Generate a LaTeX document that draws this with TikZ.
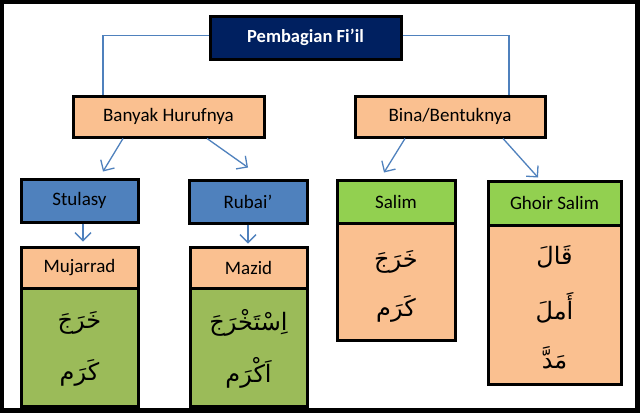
\documentclass[tikz,border=0pt]{standalone}
\usepackage{fontspec}
\setmainfont{Carlito}
\newfontfamily\arabicfont[Script=Arabic]{DejaVu Sans}
\TeXXeTstate=1
\usetikzlibrary{arrows.meta}
\definecolor{navy}{HTML}{002060}
\definecolor{peach}{HTML}{FAC090}
\definecolor{hblue}{HTML}{4F81BD}
\definecolor{lgreen}{HTML}{92D050}
\definecolor{ogreen}{HTML}{9BBB59}
\definecolor{linkblue}{HTML}{4F81BD}
\begin{document}
\begin{tikzpicture}[x=1pt,y=-1pt,
  box/.style={draw=black,line width=3pt,inner sep=0pt,font=\fontsize{19}{22}\selectfont},
  conn/.style={draw=linkblue,line width=1.3pt},
  arr/.style={conn,-{Straight Barb[length=8pt,width=16pt]}},
  ar/.style={font=\arabicfont\fontsize{24}{28}\selectfont}]
\fill[black] (0,0) rectangle (640,413);
\fill[white] (4,4) rectangle (635,408);
\useasboundingbox (0,0) rectangle (640,413);
% top
\node[box,fill=navy,text=white,font=\bfseries\fontsize{18.5}{22}\selectfont,minimum width=191pt,minimum height=43pt] (top) at (305.5,37.5) {Pembagian Fi’il};
\node[box,fill=peach,minimum width=191pt,minimum height=41pt] (banyak) at (168.5,116.5) {Banyak Hurufnya};
\node[box,fill=peach,minimum width=190pt,minimum height=41pt] (bina) at (450,116.5) {Bina/Bentuknya};
% second level
\node[box,fill=hblue,minimum width=117pt,minimum height=43pt] (stulasy) at (79.5,200.5) {Stulasy};
\node[box,fill=hblue,minimum width=118pt,minimum height=43pt] (rubai) at (248,201.5) {Rubai’};
% Mujarrad
\node[box,fill=ogreen,minimum width=117pt,minimum height=118pt] (mujB) at (79.5,347) {};
\node[box,fill=peach,minimum width=117pt,minimum height=41pt] (mujH) at (79.5,267.5) {Mujarrad};
% Mazid
\node[box,fill=ogreen,minimum width=117pt,minimum height=118pt] (mazB) at (248.5,347) {};
\node[box,fill=peach,minimum width=117pt,minimum height=41pt] (mazH) at (248.5,267.5) {Mazid};
% Salim
\node[box,fill=peach,minimum width=118pt,minimum height=117pt] (salB) at (396,281.5) {};
\node[box,fill=lgreen,minimum width=118pt,minimum height=43pt] (salH) at (396,201.5) {Salim};
% Ghoir Salim
\node[box,fill=peach,minimum width=133pt,minimum height=159pt] (ghB) at (554.5,304.5) {};
\node[box,fill=lgreen,minimum width=133pt,minimum height=44pt] (ghH) at (554.5,203) {Ghoir Salim};
% arabic
\node[ar] (a1) at (79.5,323) {\beginR خَرَجَ\endR};
\node[ar] (a2) at (79.5,373) {\beginR كَرَم\endR};
\node[ar] (a3) at (248.5,323) {\beginR اِسْتَخْرَجَ\endR};
\node[ar] (a4) at (248.5,373) {\beginR اَكْرَم\endR};
\node[ar] (a5) at (396,262) {\beginR خَرَجَ\endR};
\node[ar] (a6) at (396,309) {\beginR كَرَم\endR};
\node[ar] (a7) at (554.5,257) {\beginR قَالَ\endR};
\node[ar] (a8) at (554.5,308) {\beginR أَملَ\endR};
\node[ar] (a9) at (554.5,358) {\beginR مَدَّ\endR};
% connectors
\draw[conn] ([yshift=2pt]top.west) -| ([xshift=-65.5pt]banyak.north);
\draw[conn] ([yshift=2pt]top.east) -| ([xshift=59pt]bina.north);
\draw[arr] ([xshift=-45.5pt]banyak.south) -- ([xshift=23.5pt,yshift=6pt]stulasy.north);
\draw[arr] ([xshift=38.5pt]banyak.south) -- ([yshift=11pt]rubai.north);
\draw[arr] ([xshift=-45pt]bina.south) -- ([xshift=-12pt,yshift=6pt]salH.north);
\draw[arr] ([xshift=53pt]bina.south) -- ([xshift=-16.5pt,yshift=2pt]ghH.north);
\draw[arr] ([xshift=3.5pt]stulasy.south) -- ([xshift=3.5pt,yshift=4pt]mujH.north);
\draw[arr] (rubai.south) -- ([xshift=-0.5pt,yshift=2pt]mazH.north);
\end{tikzpicture}
\end{document}
